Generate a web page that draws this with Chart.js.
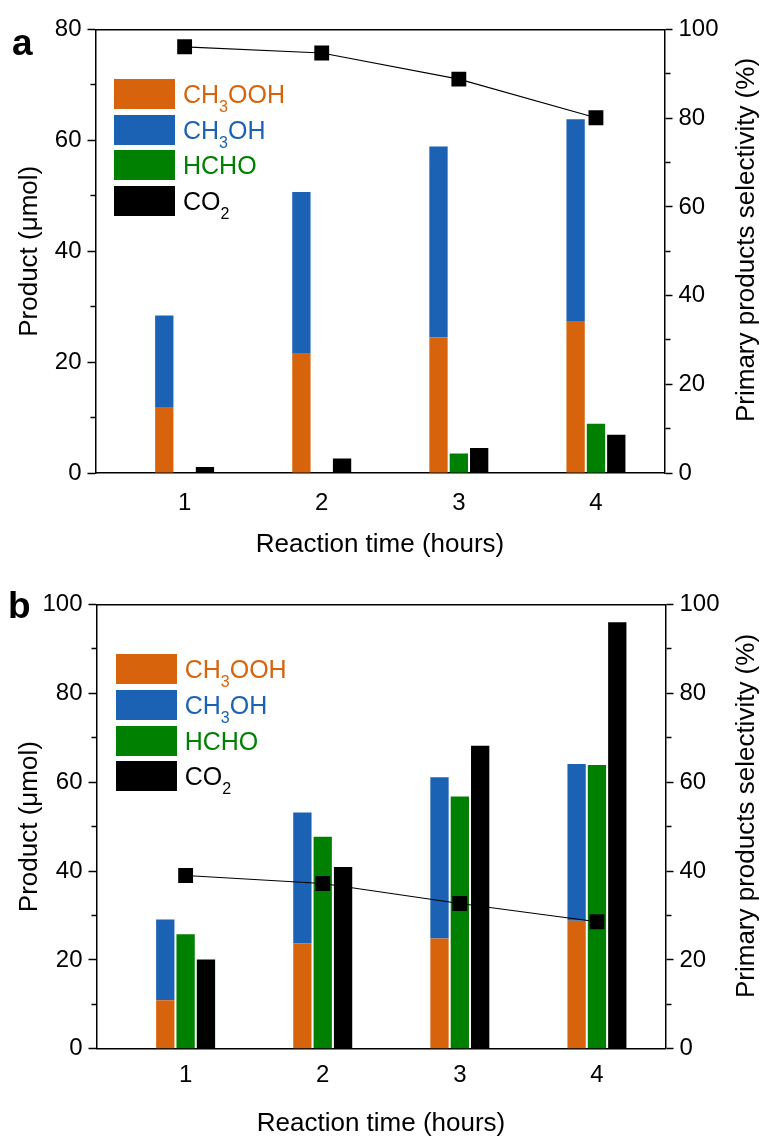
<!DOCTYPE html>
<html>
<head>
<meta charset="utf-8">
<script src="https://cdn.jsdelivr.net/npm/chart.js@4.4.0/dist/chart.umd.min.js"></script>
<style>
  body { margin: 0; background: #fff; font-family: "Liberation Sans", Arial, sans-serif; }
  #wrap { position: relative; width: 764px; height: 1136px; }
  canvas { position: absolute; left: 0; }
  .tag { position: absolute; font-weight: bold; font-size: 37px; line-height: 37px; }
  .row { position: absolute; height: 30px; white-space: nowrap; }
  .sw { position: absolute; left: 0; top: 0; width: 61px; height: 30px; }
  .lb { position: absolute; top: 0; font-size: 25px; line-height: 30px; }
  .lb span { font-size: 16px; position: relative; top: 9px; }
  .rt { position: absolute; font-size: 26px; line-height: 31px; white-space: nowrap;
        transform: translate(-50%, -50%) rotate(-90deg); }
</style>
</head>
<body>
<div id="wrap">
  <canvas id="chartA" width="764" height="568" style="top:0"></canvas>
  <canvas id="chartB" width="764" height="568" style="top:568px"></canvas>
  <div class="tag" style="left:12px;top:24px">a</div>
  <div class="tag" style="left:8px;top:587px">b</div>
  <div class="rt" style="left:745px;top:240px">Primary products selectivity (%)</div>
  <div class="rt" style="left:745px;top:816px">Primary products selectivity (%)</div>
  <div id="legA"></div>
  <div id="legB"></div>
</div>
<script>
const hours = [1, 2, 3, 4];
const names = ['CH₃OOH', 'CH₃OH', 'HCHO', 'CO₂'];
const legendMarkup = ['CH<span>3</span>OOH', 'CH<span>3</span>OH', 'HCHO', 'CO<span>2</span>'];
const colors = ['#D7640C', '#1B62B4', '#008000', '#000000'];

// panel a
const aCH3OOH = [11.9, 21.5, 24.5, 27.4];
const aCH3OH = [16.5, 29.2, 34.4, 36.4];
const aHCHO = [null, null, 3.5, 8.9];
const aCO2 = [1.1, 2.6, 4.5, 6.9];
const aSelectivity = [96.1, 94.7, 88.8, 80.1];

// panel b
const bCH3OOH = [10.9, 23.7, 24.8, 28.8];
const bCH3OH = [18.2, 29.5, 36.3, 35.3];
const bHCHO = [25.8, 47.7, 56.8, 63.9];
const bCO2 = [20.1, 40.9, 68.2, 96.0];
const bSelectivity = [39.0, 37.2, 32.7, 28.6];

const aProductMax = 80;
const bProductMax = 100;
const selectivityMax = 100;

Chart.defaults.font.family = '"Liberation Sans", Arial, sans-serif';
Chart.defaults.color = '#000';

const pts = arr => hours.map((h, i) => ({ x: h, y: arr[i] }));

function makePanel(id, series, sel, yMax, g) {
  const stacks = ['p', 'p', 'h', 'c'];
  const bars = series.map((s, i) => ({
    label: names[i],
    data: pts(s),
    backgroundColor: colors[i],
    borderWidth: 0,
    stack: stacks[i],
    order: 1
  }));
  const line = {
    type: 'line',
    label: 'Selectivity',
    data: pts(sel),
    yAxisID: 'y2',
    borderColor: '#000',
    borderWidth: 1.2,
    pointStyle: 'rect',
    pointRadius: 10.5,
    pointBackgroundColor: '#000',
    pointBorderWidth: 0,
    order: 0
  };
  new Chart(document.getElementById(id), {
    type: 'bar',
    data: { datasets: [line].concat(bars) },
    options: {
      responsive: false,
      animation: false,
      devicePixelRatio: 1,
      categoryPercentage: 0.445,
      barPercentage: 0.9,
      layout: { padding: { top: g.top, left: 0, right: 0, bottom: 0 } },
      plugins: { legend: { display: false }, tooltip: { enabled: false } },
      scales: {
        x: {
          type: 'linear', min: 0.35, max: 4.5, offset: false,
          afterBuildTicks: ax => { ax.ticks = hours.map(v => ({ value: v })); },
          afterFit: ax => { ax.height = 568 - g.bottom; },
          grid: { display: false },
          border: { color: '#000', width: 1.5 },
          ticks: { font: { size: 24 }, padding: g.xTickPad, autoSkip: false, maxRotation: 0 },
          title: { display: true, text: 'Reaction time (hours)', font: { size: 26 }, padding: { top: 0, bottom: g.xTitlePad } }
        },
        xTop: {
          type: 'linear', position: 'top', min: 0.35, max: 4.5,
          afterFit: ax => { ax.height = 0; },
          grid: { display: false },
          ticks: { display: false },
          border: { color: '#000', width: 1.5 }
        },
        y: {
          position: 'left', stacked: true, min: 0, max: yMax,
          afterFit: ax => { ax.width = g.left; },
          grid: {
            drawOnChartArea: false, tickLength: 8, tickColor: '#000', tickWidth: 1.5,
            tickBorderDash: c => (c.tick && c.tick.value % 20) ? [0, 3, 5, 40] : []
          },
          border: { color: '#000', width: 1.5 },
          ticks: { stepSize: 10, font: { size: 24 }, padding: 6, callback: v => v % 20 === 0 ? v : '' },
          title: { display: true, text: 'Product (μmol)', font: { size: 26 }, padding: { top: 14 } }
        },
        y2: {
          position: 'right', min: 0, max: selectivityMax,
          afterFit: ax => { ax.width = 764 - g.right; },
          grid: {
            drawOnChartArea: false, tickLength: 8, tickColor: '#000', tickWidth: 1.5,
            tickBorderDash: c => (c.tick && c.tick.value % 20) ? [5, 40] : []
          },
          border: { color: '#000', width: 1.5 },
          ticks: { stepSize: 10, font: { size: 24 }, padding: 6, callback: v => v % 20 === 0 ? v : '' }
        }
      }
    }
  });
}

function makeLegend(id, left, top, textLeft) {
  const box = document.getElementById(id);
  legendMarkup.forEach((m, i) => {
    const row = document.createElement('div');
    row.className = 'row';
    row.style.left = left + 'px';
    row.style.top = (top + i * 35.6) + 'px';
    row.innerHTML = '<div class="sw" style="background:' + colors[i] + '"></div>' +
      '<div class="lb" style="left:' + textLeft + 'px;color:' + colors[i] + '">' + m + '</div>';
    box.appendChild(row);
  });
}

makePanel('chartA', [aCH3OOH, aCH3OH, aHCHO, aCO2], aSelectivity, aProductMax,
  { left: 95.5, right: 664.5, top: 29.5, bottom: 473, xTickPad: 7.6, xTitlePad: 7.9 });
makePanel('chartB', [bCH3OOH, bCH3OH, bHCHO, bCO2], bSelectivity, bProductMax,
  { left: 96.5, right: 665.5, top: 36.5, bottom: 480.8, xTickPad: 4, xTitlePad: -3 });

makeLegend('legA', 114, 79, 69);
makeLegend('legB', 115.7, 654.3, 69);
</script>
</body>
</html>
